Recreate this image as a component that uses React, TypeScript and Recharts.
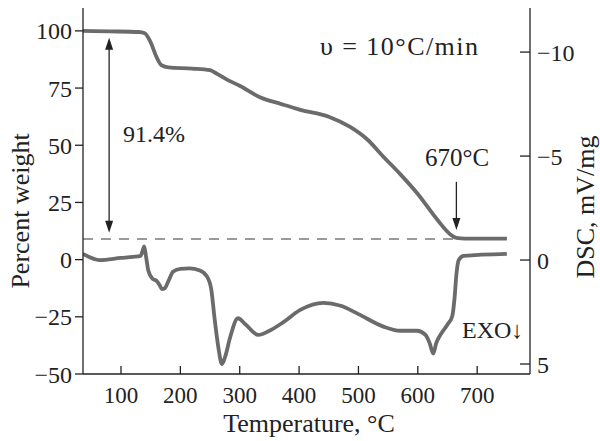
import React from "react";
import { ComposedChart, Line, XAxis, YAxis, ReferenceLine } from "recharts";

// TG curve (left axis)
const tgTemp = [36, 80, 130, 140, 150, 160, 168, 180, 220, 250, 260, 280, 300, 334, 370, 402, 450, 486, 515, 542, 570, 599, 633, 655, 665, 680, 750];
const tgWeight = [100, 99.8, 99.5, 99, 95, 88.5, 85, 84, 83.5, 82.8, 81.5, 78.5, 76, 71, 68, 65.5, 62.5, 58, 52.5, 45, 37.5, 29, 17.4, 11, 9.5, 9.2, 9.2];

// DSC curve (right axis)
const dscTemp = [36, 64, 100, 120, 133, 137, 139, 142, 146, 153, 160, 165, 169, 174, 180, 188, 200, 215, 233, 245, 252, 258, 264, 270, 276, 284, 297, 310, 331, 350, 373, 402, 441, 470, 500, 542, 570, 599, 613, 620, 626, 631, 638, 650, 658, 662, 665, 669, 677, 750];
const dscSignal = [-0.3, 0, -0.1, -0.15, -0.2, -0.5, -0.65, -0.2, 0.5, 0.9, 1.0, 1.2, 1.4, 1.35, 1.0, 0.55, 0.42, 0.4, 0.5, 0.8, 1.4, 2.9, 4.2, 5.0, 4.6, 3.7, 2.8, 3.1, 3.6, 3.4, 3.0, 2.4, 2.06, 2.2, 2.6, 3.2, 3.4, 3.4, 3.6, 4.0, 4.5, 4.0, 3.6, 3.1, 2.7, 1.8, 0.7, 0.0, -0.2, -0.3];

const tempTicks = [100, 200, 300, 400, 500, 600, 700];
const weightTicks = [-50, -25, 0, 25, 50, 75, 100];
const dscTicks = [-10, -5, 0, 5];

const residue = 9;
const lossArrowTemp = 80;
const endTemp = 665;

const tgData = tgTemp.map((t, i) => ({ t, w: tgWeight[i] }));
const dscData = dscTemp.map((t, i) => ({ t, d: dscSignal[i] }));

const FONT = '"Liberation Serif", "Times New Roman", serif';
const INK = "#222";
const CURVE = "#6b6b6b";

const X_GAP = 13; // label offset below the x axis line
const R_GAP = 7; // label offset right of the DSC axis line

const fmt = (v: number) => (v < 0 ? "\u2212" + Math.abs(v) : String(v));

const XTick = (props: any) => {
  const { x, y, payload } = props;
  return (
    <g>
      <line x1={x} x2={x} y1={y - X_GAP} y2={y - X_GAP - 8} stroke={INK} strokeWidth={1.3} />
      <text x={x} y={y} dy="0.71em" textAnchor="middle" fontSize={23} fontFamily={FONT} fill={INK}>
        {payload.value}
      </text>
    </g>
  );
};

const RightTick = (props: any) => {
  const { x, y, payload } = props;
  return (
    <g>
      <line x1={x - R_GAP} x2={x - R_GAP - 10} y1={y} y2={y} stroke={INK} strokeWidth={1.3} />
      <text x={x} y={y} dy="0.355em" textAnchor="start" fontSize={24} fontFamily={FONT} fill={INK}>
        {fmt(payload.value)}
      </text>
    </g>
  );
};

const head = (x: number, y: number, dir: number) => (
  <polygon points={`${x},${y} ${x - 4},${y - dir * 12} ${x + 4},${y - dir * 12}`} fill={INK} />
);

const DoubleArrow = (p: any) => (
  <g>
    <line x1={p.x1} x2={p.x2} y1={p.y1 + 10} y2={p.y2 - 10} stroke={INK} strokeWidth={1.3} />
    {head(p.x1, p.y1, -1)}
    {head(p.x2, p.y2, 1)}
  </g>
);

const DownArrow = (p: any) => (
  <g>
    <line x1={p.x1} x2={p.x2} y1={p.y1} y2={p.y2 - 10} stroke={INK} strokeWidth={1.3} />
    {head(p.x2, p.y2, 1)}
  </g>
);

export default function App() {
  return (
    <div style={{ position: "absolute", left: 0, top: 0, background: "#fff" }}>
      <ComposedChart width={600} height={441} margin={{ top: 8, right: 0, bottom: 0, left: 0 }}>
        <XAxis
          dataKey="t"
          type="number"
          domain={[36, 789]}
          allowDataOverflow
          ticks={tempTicks}
          tickSize={0}
          tickMargin={X_GAP}
          tickLine={false}
          tick={<XTick />}
          height={67}
          axisLine={{ stroke: INK, strokeWidth: 1.3 }}
        />
        <YAxis
          yAxisId="left"
          type="number"
          domain={[-50, 110]}
          allowDataOverflow
          ticks={weightTicks}
          tickFormatter={fmt}
          width={83}
          tickSize={8}
          tickMargin={3}
          tick={{ fontSize: 24, fontFamily: FONT, fill: INK }}
          tickLine={{ stroke: INK, strokeWidth: 1.3 }}
          axisLine={{ stroke: INK, strokeWidth: 1.3 }}
        />
        <YAxis
          yAxisId="right"
          orientation="right"
          type="number"
          reversed
          domain={[-12.12, 5.48]}
          allowDataOverflow
          ticks={dscTicks}
          width={70}
          tickSize={0}
          tickMargin={R_GAP}
          tickLine={false}
          tick={<RightTick />}
          axisLine={{ stroke: INK, strokeWidth: 1.3 }}
        />
        <ReferenceLine
          yAxisId="left"
          segment={[{ x: 36, y: residue }, { x: 750, y: residue }]}
          stroke="#9a9a9a"
          strokeWidth={2}
          strokeDasharray="10 8"
        />
        <ReferenceLine
          yAxisId="left"
          segment={[{ x: lossArrowTemp, y: 97 }, { x: lossArrowTemp, y: 11.7 }]}
          shape={DoubleArrow}
        />
        <ReferenceLine
          yAxisId="left"
          segment={[{ x: endTemp, y: 34 }, { x: endTemp, y: 13 }]}
          shape={DownArrow}
        />
        <Line
          yAxisId="left"
          data={tgData}
          dataKey="w"
          type="monotone"
          stroke={CURVE}
          strokeWidth={3.8}
          dot={false}
          isAnimationActive={false}
        />
        <Line
          yAxisId="right"
          data={dscData}
          dataKey="d"
          type="monotone"
          stroke={CURVE}
          strokeWidth={3.8}
          dot={false}
          isAnimationActive={false}
        />
        <text x={123} y={142} fontSize={24} fontFamily={FONT} fill={INK}>91.4%</text>
        <text x={320} y={55} fontSize={26} fontFamily={FONT} fill={INK} textLength={158} lengthAdjust="spacing">υ = 10°C/min</text>
        <text x={425} y={166} fontSize={25} fontFamily={FONT} fill={INK}>670°C</text>
        <text x={462} y={338} fontSize={24} fontFamily={FONT} fill={INK}>EXO↓</text>
        <text x={309} y={432} textAnchor="middle" fontSize={26} fontFamily={FONT} fill={INK}>Temperature, °C</text>
        <text x={29} y={211} textAnchor="middle" fontSize={26} fontFamily={FONT} fill={INK} transform="rotate(-90 29 211)">Percent weight</text>
        <text x={594} y={207} textAnchor="middle" fontSize={26} fontFamily={FONT} fill={INK} transform="rotate(-90 594 207)">DSC, mV/mg</text>
      </ComposedChart>
    </div>
  );
}
